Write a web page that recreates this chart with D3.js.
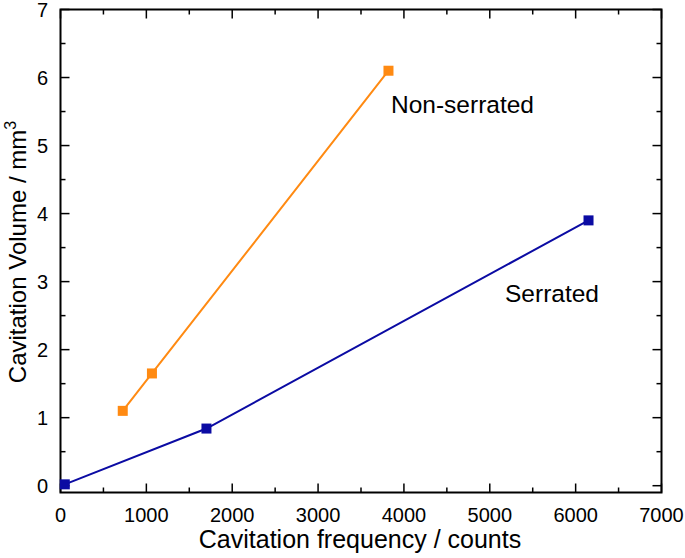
<!DOCTYPE html>
<html><head><meta charset="utf-8">
<script src="https://cdn.jsdelivr.net/npm/d3@7"></script>
<style>body{margin:0;background:#fff}svg{font-family:"Liberation Sans",Arial,sans-serif}</style>
</head><body><svg id="c" width="685" height="558"></svg>
<script>
const serratedX = [50, 1700, 6150];
const serratedY = [0.02, 0.84, 3.9];
const nonSerratedX = [725, 1065, 3820];
const nonSerratedY = [1.1, 1.65, 6.1];
const xTicks = [0,1000,2000,3000,4000,5000,6000,7000];
const yTicks = [0,1,2,3,4,5,6,7];
const seriesNames = ["Serrated","Non-serrated"];
const colors = {"Serrated":"#0b0ba3","Non-serrated":"#ff8a12"};

const svg = d3.select("#c");
const L=60.5,R=661.5,T=9.5,B=492.5;
const x = d3.scaleLinear().domain([0,7000]).range([L,R]);
const y = d3.scaleLinear().domain([-0.1,7]).range([B,T]);

const g = svg.append("g");
const xMinor = d3.range(500,7000,1000);
const yMinor = d3.range(0.5,7,1);
xTicks.concat(xMinor).forEach(v=>{
  const len = xTicks.includes(v)?9:5;
  g.append("line").attr("x1",x(v)).attr("x2",x(v)).attr("y1",B).attr("y2",B-len).attr("stroke","#000").attr("stroke-width",1.5);
  g.append("line").attr("x1",x(v)).attr("x2",x(v)).attr("y1",T).attr("y2",T+len).attr("stroke","#000").attr("stroke-width",1.5);
});
yTicks.concat(yMinor).forEach(v=>{
  const len = yTicks.includes(v)?9:5;
  g.append("line").attr("y1",y(v)).attr("y2",y(v)).attr("x1",L).attr("x2",L+len).attr("stroke","#000").attr("stroke-width",1.5);
  g.append("line").attr("y1",y(v)).attr("y2",y(v)).attr("x1",R).attr("x2",R-len).attr("stroke","#000").attr("stroke-width",1.5);
});
g.append("rect").attr("x",L).attr("y",T).attr("width",R-L).attr("height",B-T).attr("fill","none").attr("stroke","#000").attr("stroke-width",2);

g.selectAll(".xl").data(xTicks).join("text").attr("x",d=>x(d)).attr("y",522).attr("text-anchor","middle")
 .attr("font-size",20).text(d=>d);
g.selectAll(".yl").data(yTicks).join("text").attr("x",48).attr("y",d=>y(d)+7).attr("text-anchor","end")
 .attr("font-size",20).text(d=>d);

g.append("text").attr("x",360).attr("y",548).attr("text-anchor","middle").attr("font-size",25).text("Cavitation frequency / counts");
const yt = g.append("text").attr("transform","translate(26,252) rotate(-90)").attr("text-anchor","middle").attr("font-size",24);
yt.append("tspan").text("Cavitation Volume / mm");
yt.append("tspan").attr("dy",-10).attr("font-size",16).text("3");

const line = d3.line().x(d=>x(d[0])).y(d=>y(d[1]));
const data = [
  {name:"Serrated", pts: serratedX.map((v,i)=>[v,serratedY[i]])},
  {name:"Non-serrated", pts: nonSerratedX.map((v,i)=>[v,nonSerratedY[i]])}
];
data.forEach(s=>{
  g.append("path").attr("d",line(s.pts)).attr("fill","none").attr("stroke",colors[s.name]).attr("stroke-width",2);
  g.selectAll(null).data(s.pts).join("rect").attr("x",d=>x(d[0])-5).attr("y",d=>y(d[1])-5)
   .attr("width",10).attr("height",10).attr("fill",colors[s.name]);
});
g.append("text").attr("x",391).attr("y",113).attr("font-size",24.5).text("Non-serrated");
g.append("text").attr("x",505).attr("y",302).attr("font-size",24.5).text("Serrated");
</script></body></html>
